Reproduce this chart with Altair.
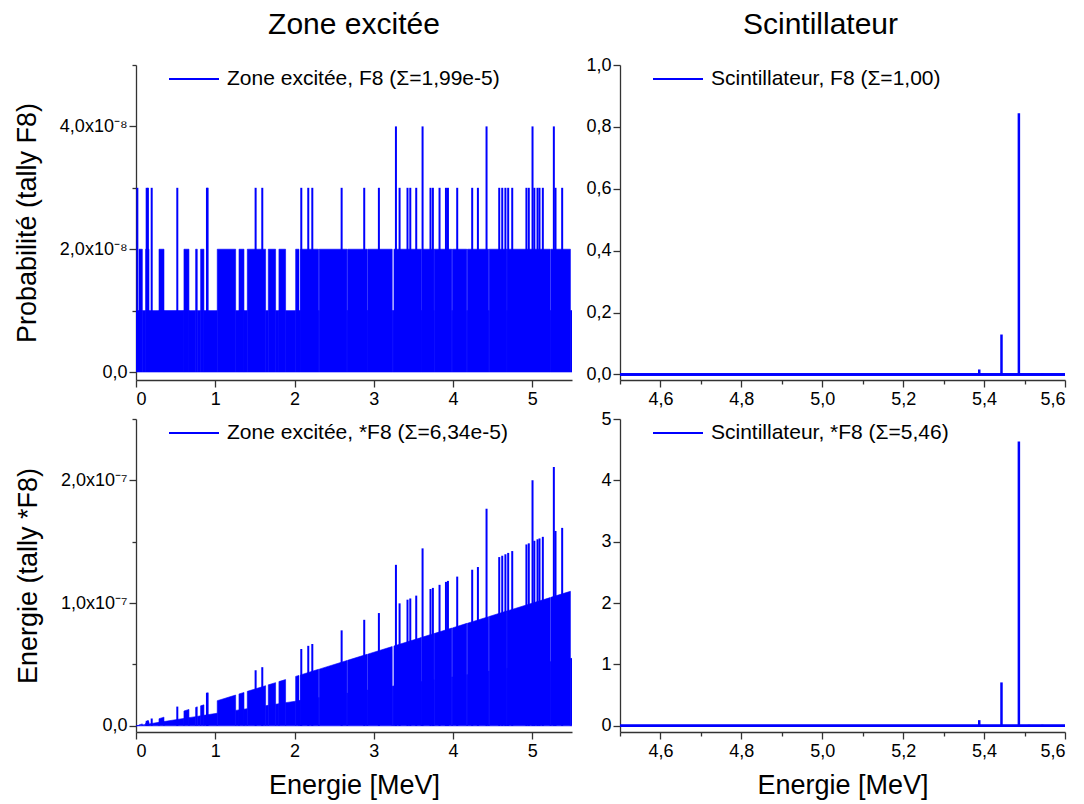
import altair as alt
import pandas as pd

BLUE = "#0000ff"
FONT = "Liberation Sans"
AXC = "#333333"

# ---------------- Zone excitée : spectrum envelope (segments) ----------------
# energy bounds (MeV), F8 level (x1e-8), *F8 at segment start / end (x1e-7)
seg_start = [0.000, 0.038, 0.080, 0.122, 0.164, 0.290, 0.353, 0.605, 0.668, 0.752,
             0.773, 0.815, 0.857, 1.025, 1.257, 1.299, 1.362, 1.404, 1.635, 1.669,
             1.761, 1.803, 1.887, 2.014, 2.056, 2.076, 2.303, 2.311, 2.661, 2.669,
             2.914, 2.922, 3.232, 3.254, 3.597, 3.605, 3.753, 3.761, 3.984, 3.992,
             4.173, 4.181, 4.447, 4.455, 4.678, 4.686, 5.225, 5.233, 5.480]
seg_end = [0.038, 0.080, 0.122, 0.164, 0.290, 0.353, 0.605, 0.668, 0.752, 0.773,
           0.815, 0.857, 1.025, 1.257, 1.299, 1.362, 1.404, 1.635, 1.669, 1.761,
           1.803, 1.887, 2.014, 2.056, 2.076, 2.303, 2.311, 2.661, 2.669, 2.914,
           2.922, 3.232, 3.254, 3.597, 3.605, 3.753, 3.761, 3.984, 3.992, 4.173,
           4.181, 4.447, 4.455, 4.678, 4.686, 5.225, 5.233, 5.480, 5.500]
seg_f8 = [1, 2, 1, 2, 1, 2, 1, 2, 1, 2,
          1, 2, 1, 2, 1, 2, 1, 2, 1, 2,
          1, 2, 1, 2, 1, 2, 1, 2, 1, 2,
          1, 2, 1, 2, 1, 2, 1, 2, 1, 2,
          1, 2, 1, 2, 1, 2, 1, 2, 1]
seg_ef8_start = [0.000, 0.008, 0.008, 0.024, 0.016, 0.058, 0.035, 0.121, 0.067, 0.150,
                 0.077, 0.163, 0.086, 0.205, 0.126, 0.260, 0.136, 0.281, 0.164, 0.334,
                 0.176, 0.361, 0.189, 0.403, 0.206, 0.415, 0.230, 0.462, 0.266, 0.534,
                 0.291, 0.584, 0.323, 0.651, 0.360, 0.721, 0.375, 0.752, 0.398, 0.798,
                 0.417, 0.836, 0.445, 0.891, 0.468, 0.937, 0.523, 1.047, 0.548]
seg_ef8_end = [0.004, 0.016, 0.012, 0.033, 0.029, 0.071, 0.061, 0.134, 0.075, 0.155,
               0.082, 0.171, 0.103, 0.251, 0.130, 0.272, 0.140, 0.327, 0.167, 0.352,
               0.180, 0.377, 0.201, 0.411, 0.208, 0.461, 0.231, 0.532, 0.267, 0.583,
               0.292, 0.646, 0.325, 0.719, 0.361, 0.751, 0.376, 0.797, 0.399, 0.835,
               0.418, 0.889, 0.446, 0.936, 0.469, 1.045, 0.523, 1.096, 0.550]

# isolated higher bins (spikes)
spike_e = [0.017, 0.135, 0.150, 0.198, 0.521, 0.895, 0.903, 1.509, 1.593, 2.085,
           2.173, 2.224, 2.594, 2.879, 3.064, 3.279, 3.325, 3.425, 3.460, 3.535,
           3.615, 3.715, 3.745, 3.829, 3.910, 3.935, 4.052, 4.241, 4.313, 4.422,
           4.582, 4.620, 4.660, 4.695, 4.746, 4.925, 4.955, 5.002, 5.025, 5.065,
           5.090, 5.132, 5.271, 5.292, 5.376]
spike_f8 = [3, 3, 3, 3, 3, 3, 3, 3, 3, 3,
            3, 3, 3, 3, 3, 4, 3, 3, 3, 3,
            4, 3, 3, 3, 3, 3, 3, 3, 3, 4,
            3, 3, 3, 3, 3, 3, 3, 4, 3, 3,
            3, 3, 4, 3, 3]
spike_ef8 = [0.005, 0.041, 0.045, 0.060, 0.157, 0.269, 0.271, 0.453, 0.478, 0.626,
             0.652, 0.667, 0.778, 0.864, 0.919, 1.312, 0.998, 1.028, 1.038, 1.061,
             1.446, 1.115, 1.124, 1.149, 1.173, 1.181, 1.216, 1.272, 1.294, 1.769,
             1.375, 1.386, 1.398, 1.409, 1.424, 1.478, 1.487, 2.001, 1.508, 1.520,
             1.527, 1.540, 2.108, 1.588, 1.613]

# ---------------- Scintillateur ----------------
scint_e = [5.388, 5.443, 5.486, 5.511, 5.544]
scint_f8 = [0.016, 0.129, 0.844, 0.003, 0.003]
scint_ef8 = [0.093, 0.708, 4.633, 0.017, 0.017]

# ---------------- texts & ticks ----------------
col_titles = ["Zone excitée", "Scintillateur"]
legend_labels = ["Zone excitée, F8 (Σ=1,99e-5)", "Scintillateur, F8 (Σ=1,00)",
                 "Zone excitée, *F8 (Σ=6,34e-5)", "Scintillateur, *F8 (Σ=5,46)"]
ytitles = ["Probabilité (tally F8)", "Energie (tally *F8)"]
xtitle = "Energie [MeV]"

zone_x_ticks = [0, 0.5, 1, 1.5, 2, 2.5, 3, 3.5, 4, 4.5, 5, 5.5]
scint_x_ticks = [4.5, 4.6, 4.7, 4.8, 4.9, 5.0, 5.1, 5.2, 5.3, 5.4, 5.5, 5.6]
zone_f8_ticks = [0, 1, 2, 3, 4, 5]
zone_ef8_ticks = [0, 0.5, 1, 1.5, 2, 2.5]
scint_f8_ticks = [0, 0.1, 0.2, 0.3, 0.4, 0.5, 0.6, 0.7, 0.8, 0.9, 1.0]
scint_ef8_ticks = [0, 0.5, 1, 1.5, 2, 2.5, 3, 3.5, 4, 4.5, 5]

# ---------------- tables ----------------
env_rows = []
for k, (x0, x1, l, b0, b1) in enumerate(zip(seg_start, seg_end, seg_f8,
                                            seg_ef8_start, seg_ef8_end)):
    env_rows.append({"seg": k, "e": x0, "f8": l, "ef8": b0})
    env_rows.append({"seg": k, "e": x1, "f8": l, "ef8": b1})
env_df = pd.DataFrame(env_rows)
spike_df = pd.DataFrame({"e": spike_e, "f8": spike_f8, "ef8": spike_ef8})
scint_df = pd.DataFrame({"e": scint_e, "f8": scint_f8, "ef8": scint_ef8})


def tick_size(test):
    return {"condition": {"test": test, "value": 7}, "value": 4}


def xaxis(values, test, label_expr, title):
    kw = dict(values=values, labelExpr=label_expr, tickSize=tick_size(test),
              labelPadding=3, grid=False)
    if title:
        kw.update(title=title, titlePadding=12)
    else:
        kw.update(title=None)
    return alt.Axis(**kw)


def yaxis(values, test, label_expr, title):
    kw = dict(values=values, labelExpr=label_expr, tickSize=tick_size(test),
              labelPadding=2, grid=False)
    if title:
        kw.update(title=title, titlePadding=18)
    else:
        kw.update(title=None)
    return alt.Axis(**kw)


def legend():
    return alt.Legend(title=None, orient="none", legendX=32, legendY=-12,
                      symbolType="stroke", symbolSize=2500, symbolStrokeWidth=2,
                      labelFontSize=21, labelFont=FONT, labelOffset=7,
                      padding=0, labelLimit=0, labelColor="black")


def col_title(text, dx):
    return alt.TitleParams(text, fontSize=30, font=FONT, fontWeight="normal",
                           anchor="middle", frame="group", offset=-11, dx=dx,
                           color="black", baseline="alphabetic")


zone_x_test = "abs(datum.value - round(datum.value)) < 0.01"
zone_x_lab = "abs(datum.value - round(datum.value)) < 0.01 ? format(datum.value, 'd') : ''"
scint_x_test = "round(datum.value * 10) % 2 == 0"
scint_x_lab = "round(datum.value * 10) % 2 == 0 ? replace(format(datum.value, '.1f'), '.', ',') : ''"


def zone_panel(field, dom, yvals, ytest, ylab, label, ytitle, xt, h, title=None):
    x = alt.X("e:Q", scale=alt.Scale(domain=[0, 5.5], nice=False, zero=False),
              axis=xaxis(zone_x_ticks, zone_x_test, zone_x_lab, xt))
    y = alt.Y(f"{field}:Q", scale=alt.Scale(domain=dom, nice=False), stack=None,
              axis=yaxis(yvals, ytest, ylab, ytitle))
    area = alt.Chart(env_df).mark_area(color=BLUE, stroke=BLUE, strokeWidth=0.6,
                                       interpolate="linear", clip=True).encode(
        x=x, y=y, detail="seg:N")
    sp = alt.Chart(spike_df).transform_calculate(series=f"'{label}'").mark_rule(
        strokeWidth=2, clip=True).encode(
        x=alt.X("e:Q"), y=alt.Y(f"{field}:Q"), y2=alt.datum(0),
        color=alt.Color("series:N", scale=alt.Scale(domain=[label], range=[BLUE]),
                        legend=legend()))
    ch = alt.layer(area, sp).properties(width=436, height=h)
    if title:
        ch = ch.properties(title=col_title(title, 0))
    return ch


def scint_panel(field, dom, yvals, ytest, ylab, label, xt, h, title=None):
    x = alt.X("e:Q", scale=alt.Scale(domain=[4.5, 5.6], nice=False, zero=False),
              axis=xaxis(scint_x_ticks, scint_x_test, scint_x_lab, xt))
    y = alt.Y(f"{field}:Q", scale=alt.Scale(domain=dom, nice=False),
              axis=yaxis(yvals, ytest, ylab, None))
    base = alt.Chart(scint_df).mark_rule(color=BLUE, strokeWidth=2).encode(y=alt.datum(0))
    sp = alt.Chart(scint_df).transform_calculate(series=f"'{label}'").mark_rule(
        strokeWidth=2.5, clip=True).encode(
        x=x, y=y, y2=alt.datum(0),
        color=alt.Color("series:N", scale=alt.Scale(domain=[label], range=[BLUE]),
                        legend=legend()))
    ch = alt.layer(sp, base).properties(width=445, height=h)
    if title:
        ch = ch.properties(title=col_title(title, -22))
    return ch


tl = zone_panel("f8", [-0.13, 5.0], zone_f8_ticks,
                "abs(datum.value / 2 - round(datum.value / 2)) < 0.01",
                "datum.value == 0 ? '0,0' : (abs(datum.value / 2 - round(datum.value / 2)) < 0.01 ? replace(format(datum.value, '.1f'), '.', ',') + 'x10⁻⁸' : '')",
                legend_labels[0], ytitles[0], None, 315, col_titles[0])
tr = scint_panel("f8", [-0.018, 1.0], scint_f8_ticks,
                 "round(datum.value * 10) % 2 == 0",
                 "round(datum.value * 10) % 2 == 0 ? replace(format(datum.value, '.1f'), '.', ',') : ''",
                 legend_labels[1], None, 315, col_titles[1])
bl = zone_panel("ef8", [-0.05, 2.5], zone_ef8_ticks,
                "abs(datum.value - round(datum.value)) < 0.01",
                "datum.value == 0 ? '0,0' : (abs(datum.value - round(datum.value)) < 0.01 ? replace(format(datum.value, '.1f'), '.', ',') + 'x10⁻⁷' : '')",
                legend_labels[2], ytitles[1], xtitle, 313)
br = scint_panel("ef8", [-0.1, 5.0], scint_ef8_ticks,
                 "abs(datum.value - round(datum.value)) < 0.01",
                 "abs(datum.value - round(datum.value)) < 0.01 ? format(datum.value, 'd') : ''",
                 legend_labels[3], xtitle, 313)

chart = alt.concat(tl, tr, bl, br, columns=2, spacing={"row": -1, "column": 13}).resolve_scale(
    color="independent"
).configure_view(stroke=None).configure_axis(
    domainColor=AXC, tickColor=AXC, domainWidth=1.3, tickWidth=1.3,
    labelFont=FONT, labelFontSize=18, labelColor="black",
    titleFont=FONT, titleFontSize=27, titleFontWeight="normal", titleColor="black",
).properties(padding={"left": 5, "top": 2, "right": 5, "bottom": 5}, background="white")

chart.save("out.html", embed_options={"renderer": "svg", "actions": False})
